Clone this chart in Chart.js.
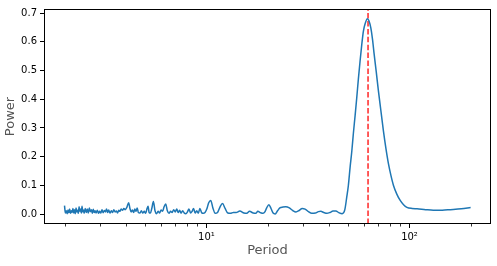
<!DOCTYPE html>
<html lang="en">
  <head>
    <meta charset="UTF-8" />
    <title>Periodogram</title>
    <script src="https://cdn.jsdelivr.net/npm/chart.js"></script>
    <style>
      html, body { margin: 0; padding: 0; background: #fff; }
      #wrap { width: 497px; height: 266px; }
    </style>
  </head>
  <body>
    <div id="wrap"><canvas id="chart"></canvas></div>
    <script>
      // periods and power
      const periods = [
        2.00, 2.02, 2.04, 2.06, 2.08, 2.10, 2.12, 2.14, 2.16, 2.18,
        2.20, 2.22, 2.24, 2.26, 2.28, 2.30, 2.32, 2.34, 2.36, 2.38,
        2.40, 2.42, 2.44, 2.46, 2.48, 2.50, 2.53, 2.56, 2.59, 2.62,
        2.65, 2.68, 2.71, 2.74, 2.77, 2.80, 2.83, 2.86, 2.90, 2.94,
        2.98, 3.02, 3.06, 3.10, 3.14, 3.18, 3.22, 3.26, 3.30, 3.35,
        3.40, 3.45, 3.50, 3.55, 3.60, 3.65, 3.70, 3.75, 3.80, 3.86,
        3.92, 3.98, 4.06, 4.14, 4.20, 4.26, 4.32, 4.38, 4.44, 4.50,
        4.56, 4.62, 4.70, 4.78, 4.86, 4.94, 5.02, 5.10, 5.16, 5.22,
        5.30, 5.38, 5.48, 5.58, 5.68, 5.78, 5.88, 5.98, 6.08, 6.18,
        6.30, 6.42, 6.54, 6.66, 6.78, 6.90, 7.02, 7.14, 7.26, 7.38,
        7.50, 7.64, 7.78, 7.92, 8.06, 8.20, 8.36, 8.50, 8.64, 8.80,
        8.96, 9.12, 9.28, 9.46, 9.64, 9.84, 10.04, 10.26, 10.50, 10.76,
        11.04, 11.34, 11.66, 12.00, 12.36, 12.74, 13.14, 13.56, 14.00, 14.60,
        15.30, 15.80, 16.30, 17.00, 17.50, 17.90, 18.50, 19.00, 19.40, 19.80,
        20.30, 20.80, 21.30, 21.80, 22.40, 23.00, 23.80, 24.60, 25.60, 26.60,
        27.60, 28.60, 29.60, 30.60, 31.80, 33.00, 34.40, 35.60, 36.60, 37.80,
        39.20, 40.60, 42.00, 43.40, 45.00, 46.60, 48.00, 49.10, 50.00, 51.00,
        52.00, 52.90, 54.00, 55.00, 56.00, 57.10, 58.20, 59.30, 60.60, 62.00,
        63.20, 64.50, 65.70, 67.00, 68.60, 70.30, 72.30, 74.40, 76.50, 78.80,
        81.00, 83.40, 86.60, 90.00, 93.50, 97.10, 103.0, 109.0, 120.0, 131.0,
        145.0, 159.0, 180.0, 200.0
      ];
      const power = [
        0.030, 0.004, 0.012, 0.002, 0.015, 0.005, 0.018, 0.003, 0.012, 0.006,
        0.020, 0.004, 0.016, 0.002, 0.022, 0.008, 0.014, 0.003, 0.026, 0.010,
        0.018, 0.004, 0.028, 0.008, 0.015, 0.003, 0.020, 0.006, 0.018, 0.004,
        0.022, 0.009, 0.016, 0.003, 0.017, 0.006, 0.012, 0.004, 0.014, 0.003,
        0.010, 0.004, 0.016, 0.005, 0.013, 0.008, 0.018, 0.006, 0.015, 0.004,
        0.012, 0.006, 0.016, 0.008, 0.011, 0.004, 0.014, 0.010, 0.018, 0.014,
        0.020, 0.016, 0.025, 0.040, 0.020, 0.008, 0.015, 0.006, 0.018, 0.010,
        0.022, 0.006, 0.004, 0.012, 0.004, 0.010, 0.003, 0.020, 0.028, 0.006,
        0.004, 0.020, 0.044, 0.012, 0.002, 0.010, 0.004, 0.015, 0.010, 0.025,
        0.036, 0.012, 0.003, 0.010, 0.006, 0.016, 0.008, 0.018, 0.006, 0.014,
        0.004, 0.012, 0.004, 0.002, 0.008, 0.018, 0.004, 0.010, 0.020, 0.004,
        0.012, 0.003, 0.020, 0.006, 0.003, 0.006, 0.018, 0.040, 0.048, 0.022,
        0.003, 0.006, 0.025, 0.037, 0.020, 0.004, 0.003, 0.006, 0.006, 0.011,
        0.004, 0.003, 0.010, 0.004, 0.003, 0.010, 0.005, 0.003, 0.008, 0.022,
        0.033, 0.020, 0.004, 0.001, 0.012, 0.022, 0.025, 0.026, 0.022, 0.013,
        0.008, 0.013, 0.020, 0.018, 0.009, 0.003, 0.004, 0.009, 0.010, 0.006,
        0.003, 0.006, 0.011, 0.011, 0.005, 0.002, 0.015, 0.060, 0.100, 0.164,
        0.220, 0.280, 0.345, 0.406, 0.470, 0.533, 0.590, 0.637, 0.665, 0.680,
        0.672, 0.648, 0.610, 0.556, 0.495, 0.429, 0.360, 0.290, 0.230, 0.175,
        0.135, 0.100, 0.070, 0.048, 0.033, 0.024, 0.020, 0.019, 0.016, 0.014,
        0.014, 0.016, 0.019, 0.023
      ];
      const bestPeriod = 62.5;
      const yTicks = [0.0, 0.1, 0.2, 0.3, 0.4, 0.5, 0.6, 0.7];
      const xMajor = [10, 100];
      const xMajorLabels = ["10\u00b9", "10\u00b2"];
      const xMinor = [2, 3, 4, 5, 6, 7, 8, 9, 20, 30, 40, 50, 60, 70, 80, 90, 200];

      const X_MIN = 1.585, X_MAX = 252;
      const Y_MIN = -0.034, Y_MAX = 0.714;

      // box around plot + short minor ticks on the log axis
      const frame = {
        id: "frame",
        afterDraw(chart) {
          const { ctx, chartArea: a, scales } = chart;
          ctx.save();
          ctx.strokeStyle = "#000";
          ctx.lineWidth = 1;
          ctx.strokeRect(a.left + 0.5, a.top + 0.5, a.right - a.left - 1, a.bottom - a.top - 1);
          ctx.beginPath();
          xMinor.forEach((v) => {
            const px = Math.round(scales.x.getPixelForValue(v)) + 0.5;
            ctx.moveTo(px, a.bottom);
            ctx.lineTo(px, a.bottom + 2.5);
          });
          ctx.lineWidth = 0.8;
          ctx.stroke();
          ctx.restore();
        },
      };

      new Chart(document.getElementById("chart"), {
        type: "line",
        data: {
          datasets: [
            {
              data: periods.map((p, i) => ({ x: p, y: power[i] })),
              borderColor: "#1f77b4",
              borderWidth: 1.5,
              pointRadius: 0,
              cubicInterpolationMode: "monotone",
            },
            {
              data: [
                { x: bestPeriod, y: Y_MIN },
                { x: bestPeriod, y: Y_MAX },
              ],
              borderColor: "rgba(255,0,0,0.8)",
              borderWidth: 1.6,
              borderDash: [5.5, 2.4],
              pointRadius: 0,
            },
          ],
        },
        options: {
          responsive: true,
          maintainAspectRatio: false,
          animation: false,
          layout: { padding: { top: 8, right: 6, left: 0, bottom: 0 } },
          plugins: { legend: { display: false }, tooltip: { enabled: false } },
          scales: {
            x: {
              type: "logarithmic",
              min: X_MIN,
              max: X_MAX,
              afterBuildTicks: (s) => { s.ticks = xMajor.map((v) => ({ value: v })); },
              afterFit: (s) => { s.height = 42; },
              grid: { drawOnChartArea: false, tickLength: 4, color: "#000", tickColor: "#000" },
              border: { display: false },
              ticks: {
                autoSkip: false,
                maxRotation: 0,
                padding: 3,
                color: "#000",
                font: { family: "DejaVu Sans", size: 10 },
                callback: (v) => xMajorLabels[xMajor.indexOf(v)] || "",
              },
              title: {
                display: true,
                text: "Period",
                color: "#555",
                font: { family: "DejaVu Sans", size: 13 },
                padding: { top: 0, bottom: 8 },
              },
            },
            y: {
              min: Y_MIN,
              max: Y_MAX,
              afterBuildTicks: (s) => { s.ticks = yTicks.map((v) => ({ value: v })); },
              afterFit: (s) => { s.width = 44; },
              grid: { drawOnChartArea: false, tickLength: 4, color: "#000", tickColor: "#000" },
              border: { display: false },
              ticks: {
                padding: 3,
                color: "#000",
                font: { family: "DejaVu Sans", size: 10 },
                callback: (v) => v.toFixed(1),
              },
              title: {
                display: true,
                text: "Power",
                color: "#555",
                font: { family: "DejaVu Sans", size: 13 },
                padding: { top: 3, bottom: 0 },
              },
            },
          },
        },
        plugins: [frame],
      });
    </script>
  </body>
</html>
